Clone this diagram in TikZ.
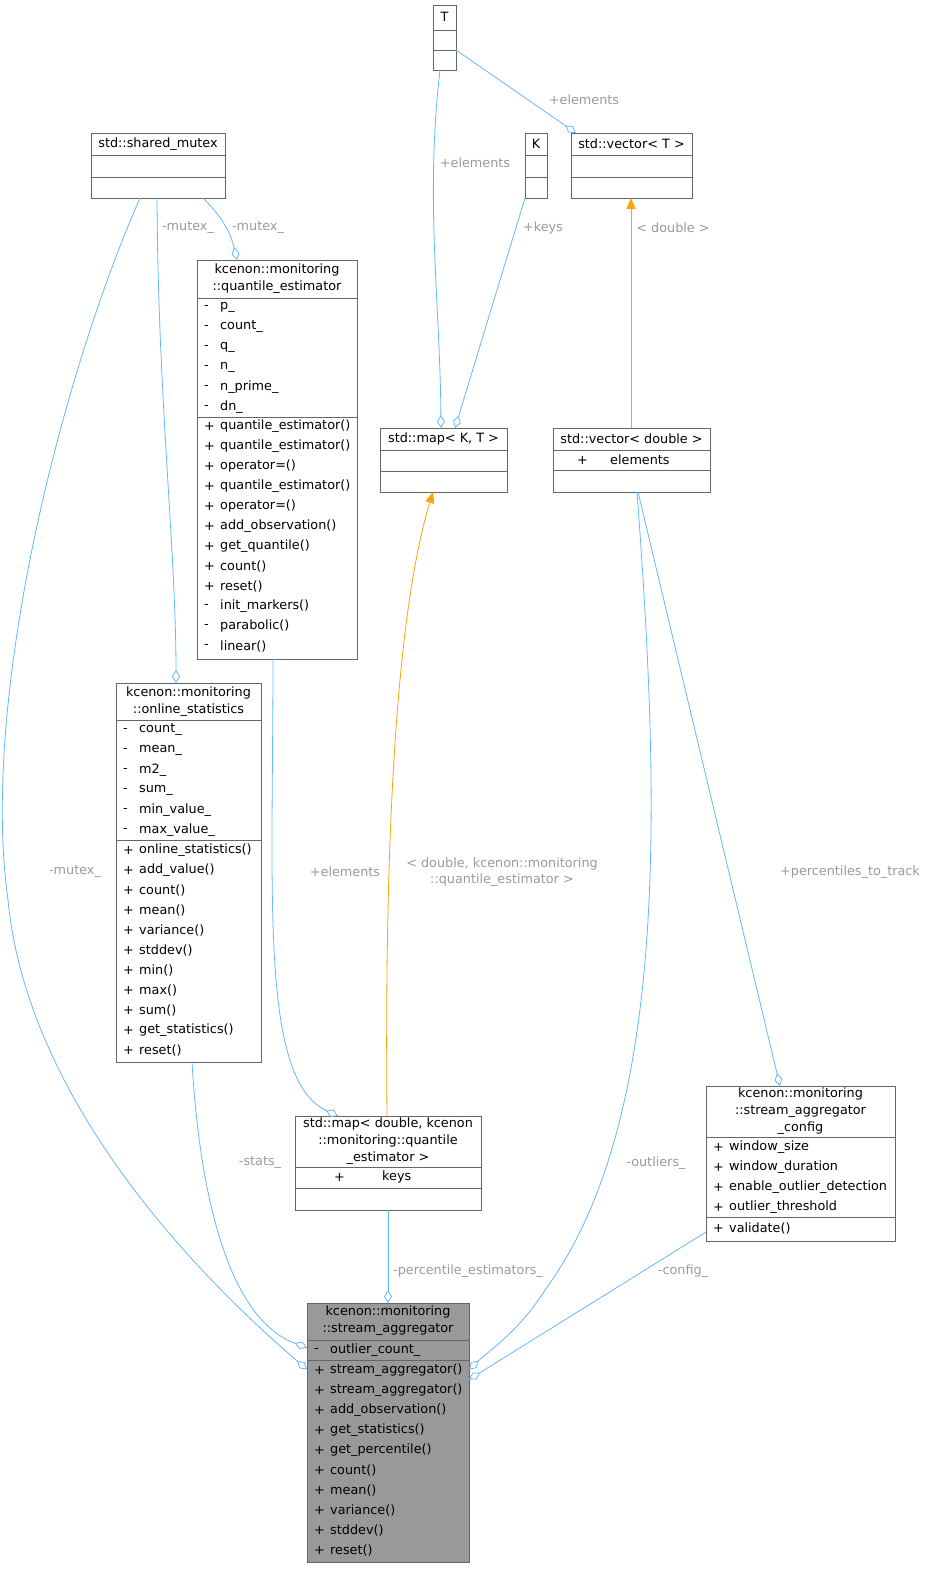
\documentclass[tikz,border=0pt]{standalone}
\usepackage{fontspec}
\setmainfont{DejaVu Sans}
\usetikzlibrary{arrows.meta,calc}
\definecolor{edgeb}{HTML}{63B8FF}
\definecolor{lbl}{HTML}{9A9A9A}
\definecolor{boxc}{HTML}{666666}
\definecolor{orng}{HTML}{FFA500}
\tikzset{
 ubox/.style={draw=boxc,line width=0.8pt,fill=white,inner sep=0,outer sep=0,rectangle},
 sepl/.style={draw=boxc,line width=0.8pt},
 txt/.style={inner sep=0,font=\fontsize{12.8}{17}\selectfont},
 ctxt/.style={txt,align=center},
 lab/.style={inner sep=0,text=lbl,font=\fontsize{12.8}{16}\selectfont,align=center},
 agg/.style={draw=edgeb,line width=0.8pt,-{Diamond[open,fill=white,length=13pt,width=8pt]}},
 inh/.style={draw=orng,line width=0.8pt,-{Triangle[length=11pt,width=9pt]},orng}
}
\newcommand\ubox[6][white]{\node[ubox,fill=#1,minimum width={#5pt-#3pt},minimum height={#6pt-#4pt}] (#2) at ({(#3+#5)/2},{(#4+#6)/2}) {};}
\newcommand\hsep[3]{\draw[sepl] (#1,#3)--(#2,#3);}
\newcommand\rowsat[3]{\foreach \v/\t [count=\i] in {#3} {\node[txt,anchor=west] at (#1+7,#2+\i*20-10) {\v}; \node[txt,anchor=west] at (#1+23,#2+\i*20-10) {\t};}}
\begin{document}
\begin{tikzpicture}[x=1pt,y=-1pt]
\useasboundingbox (0,0) rectangle (931,1572);
\ubox{T}{433}{5}{456}{70}
\ubox{K}{525}{133}{547}{198}
\ubox{vT}{571}{133}{692}{198}
\ubox{sm}{91}{133}{225}{198}
\ubox{qe}{197}{260}{357}{659}
\ubox{mKT}{380}{428}{507}{492}
\ubox{vd}{553}{428}{710}{492}
\ubox{os}{116}{683}{261}{1062}
\ubox{md}{295}{1116}{481}{1210}
\ubox{cfg}{706}{1086}{895}{1241}
\ubox[black!40]{sa}{307}{1303}{469}{1562}

\draw[agg] ($(sm.south west)+(49,0)$) .. controls (60,380) and (-20,700) .. (8,900) .. controls (30,1130) and (250,1320) .. ($(sa.west)+(0,-63)$);
\draw[agg] ($(sm.south west)+(66,0)$) .. controls (158,400) and (176,550) .. ($(os.north west)+(60,0)$);
\draw[agg] ($(sm.south west)+(112,0)$) .. controls (220,215) and (230,230) .. ($(qe.north west)+(40,0)$);
\draw[agg] ($(T.south east)+(0,-20)$) -- ($(vT.north west)+(5,0)$);
\draw[agg] ($(T.south west)+(7,0)$) .. controls (425,200) and (440,300) .. ($(mKT.north west)+(61,0)$);
\draw[agg] (K.south west) -- ($(mKT.north west)+(75,0)$);
\draw[inh] ($(vd.north west)+(78,0)$) -- (vT.south -| {$(vd.north west)+(78,0)$});
\draw[inh] ($(md.north west)+(92,0)$) .. controls (384,800) and (400,600) .. ($(mKT.south west)+(53,0)$);
\draw[agg] ($(qe.south west)+(76,0)$) .. controls (273,900) and (260,1080) .. ($(md.north west)+(43,0)$);
\draw[agg] ($(os.south west)+(76,0)$) .. controls (200,1200) and (230,1320) .. ($(sa.west)+(0,-85)$);
\draw[agg] ($(md.south west)+(93,0)$) -- ($(sa.north west)+(81,0)$);
\draw[agg] ($(vd.south west)+(84,0)$) .. controls (660,800) and (670,1120) .. (545,1290) .. controls (520,1330) and (490,1350) .. ($(sa.east)+(0,-63)$);
\draw[agg] ($(vd.south west)+(85,0)$) -- ($(cfg.north west)+(74,0)$);
\draw[agg] ($(cfg.south west)+(0,-9)$) -- ($(sa.east)+(0,-53)$);

\node[ctxt] at (444.5,17) {T}; \hsep{433}{456}{30}\hsep{433}{456}{50}
\node[ctxt] at (536,144) {K}; \hsep{525}{547}{155}\hsep{525}{547}{177}
\node[ctxt] at (631.5,144) {std::vector< T >}; \hsep{571}{692}{155}\hsep{571}{692}{177}
\node[ctxt] at (158,144) {std::shared\_mutex}; \hsep{91}{225}{155}\hsep{91}{225}{177}
\node[ctxt] at (277,279) {kcenon::monitoring\\::quantile\_estimator}; \hsep{197}{357}{298}
\rowsat{197}{297}{-/p\_,-/count\_,-/q\_,-/n\_,-/n\_prime\_,-/dn\_}
\hsep{197}{357}{417}
\rowsat{197}{416}{+/quantile\_estimator(),+/quantile\_estimator(),+/operator=(),+/quantile\_estimator(),+/operator=(),+/add\_observation(),+/get\_quantile(),+/count(),+/reset(),-/init\_markers(),-/parabolic(),-/linear()}
\node[ctxt] at (443.5,439) {std::map< K, T >}; \hsep{380}{507}{450}\hsep{380}{507}{471}
\node[ctxt] at (631.5,439) {std::vector< double >}; \hsep{553}{710}{450}
\node[txt,anchor=west] at (577,460) {+}; \node[txt,anchor=west] at (610,460) {elements};
\hsep{553}{710}{470}
\node[ctxt] at (188.5,702) {kcenon::monitoring\\::online\_statistics}; \hsep{116}{261}{720}
\rowsat{116}{720}{-/count\_,-/mean\_,-/m2\_,-/sum\_,-/min\_value\_,-/max\_value\_}
\hsep{116}{261}{840}
\rowsat{116}{840}{+/online\_statistics(),+/add\_value(),+/count(),+/mean(),+/variance(),+/stddev(),+/min(),+/max(),+/sum(),+/get\_statistics(),+/reset()}
\node[ctxt] at (388,1141) {std::map< double, kcenon\\::monitoring::quantile\\\_estimator >}; \hsep{295}{481}{1167}
\node[txt,anchor=west] at (334,1177) {+}; \node[txt,anchor=west] at (382,1177) {keys};
\hsep{295}{481}{1188}
\node[ctxt] at (800.5,1111) {kcenon::monitoring\\::stream\_aggregator\\\_config}; \hsep{706}{895}{1137}
\rowsat{706}{1137}{+/window\_size,+/window\_duration,+/enable\_outlier\_detection,+/outlier\_threshold}
\hsep{706}{895}{1217}
\rowsat{706}{1218}{+/validate()}
\node[ctxt] at (388,1321) {kcenon::monitoring\\::stream\_aggregator}; \hsep{307}{469}{1340}
\rowsat{307}{1340}{-/outlier\_count\_}
\hsep{307}{469}{1360}
\rowsat{307}{1360}{+/stream\_aggregator(),+/stream\_aggregator(),+/add\_observation(),+/get\_statistics(),+/get\_percentile(),+/count(),+/mean(),+/variance(),+/stddev(),+/reset()}

\node[lab] at (75,872) {-mutex\_};
\node[lab] at (188,228) {-mutex\_};
\node[lab] at (258,228) {-mutex\_};
\node[lab] at (584,100) {+elements};
\node[lab] at (475,163) {+elements};
\node[lab] at (543,228) {+keys};
\node[lab] at (673,228) {< double >};
\node[lab] at (502,872) {< double, kcenon::monitoring\\::quantile\_estimator >};
\node[lab] at (345,872) {+elements};
\node[lab] at (260,1163) {-stats\_};
\node[lab] at (468,1271) {-percentile\_estimators\_};
\node[lab] at (656,1163) {-outliers\_};
\node[lab] at (850,872) {+percentiles\_to\_track};
\node[lab] at (683,1271) {-config\_};
\end{tikzpicture}
\end{document}
